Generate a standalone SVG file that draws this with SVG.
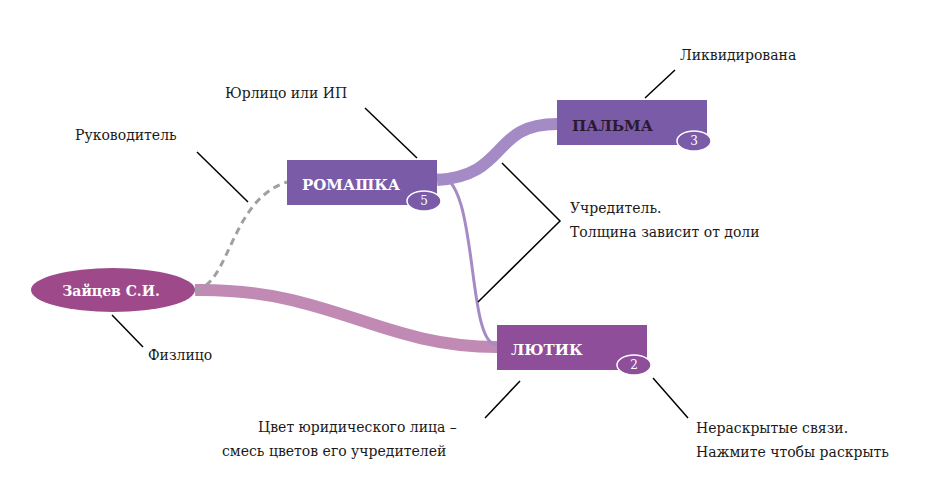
<svg xmlns="http://www.w3.org/2000/svg" width="950" height="498" viewBox="0 0 950 498">
<style>
.lbl{font-family:'DejaVu Serif','Liberation Serif',serif;font-size:14px;fill:#1a1a1a}
.nt{font-family:'DejaVu Serif','Liberation Serif',serif;font-size:15px;font-weight:bold}
.bt{font-family:'DejaVu Serif','Liberation Serif',serif;font-size:12px;fill:#fff;text-anchor:middle}
.ann{stroke:#000;stroke-width:1.5;fill:none}
.badge{stroke:#fff;stroke-width:1.5}
</style>
<rect width="950" height="498" fill="#fff"/>
<g id="connectors" fill="none">
<path d="M195,290 C330,288 380,347 497,347" stroke="#c08ab5" stroke-width="12"/>
<path d="M195,290 C230,285 230,200 287,182" stroke="#a0a0a0" stroke-width="3" stroke-dasharray="7,5"/>
<path d="M437,180 C510,175 490,124 557,124" stroke="#a48bc6" stroke-width="12"/>
<path d="M437,175 C480,175 465,345 497,345" stroke="#a48bc6" stroke-width="3"/>
</g>
<g id="annotations">
<path class="ann" d="M365,108 L417,158"/>
<path class="ann" d="M197,152 L248,202"/>
<path class="ann" d="M675,70 L645,98"/>
<path class="ann" d="M502,163 L560,221 L478,302"/>
<path class="ann" d="M112,315 L143,347"/>
<path class="ann" d="M485,418 L520,381"/>
<path class="ann" d="M653,378 L688,418"/>
<text class="lbl" x="225" y="98">Юрлицо или ИП</text>
<text class="lbl" x="75" y="140">Руководитель</text>
<text class="lbl" x="680" y="60">Ликвидирована</text>
<text class="lbl" x="570" y="213">Учредитель.</text>
<text class="lbl" x="570" y="237">Толщина зависит от доли</text>
<text class="lbl" x="148" y="360">Физлицо</text>
<text class="lbl" x="258" y="432">Цвет юридического лица –</text>
<text class="lbl" x="222" y="456">смесь цветов его учредителей</text>
<text class="lbl" x="696" y="433">Нераскрытые связи.</text>
<text class="lbl" x="696" y="457">Нажмите чтобы раскрыть</text>
</g>
<g id="zaitsev">
<ellipse cx="113" cy="290" rx="82" ry="22" fill="#9e4a8a"/>
<text class="nt" x="111" y="296" fill="#fff" text-anchor="middle" style="font-size:14px">Зайцев С.И.</text>
</g>
<g id="romashka">
<rect x="287" y="160" width="150" height="45" fill="#7a5ba8"/>
<text class="nt" x="302" y="190" fill="#fff">РОМАШКА</text>
<ellipse class="badge" cx="424" cy="201" rx="17" ry="10" fill="#7a5ba8"/>
<text class="bt" x="424" y="205">5</text>
</g>
<g id="palma">
<rect x="557" y="100" width="150" height="45" fill="#7a5ba8"/>
<text class="nt" x="572" y="131" fill="#2a1a30">ПАЛЬМА</text>
<ellipse class="badge" cx="694" cy="141" rx="17" ry="10" fill="#7a5ba8"/>
<text class="bt" x="694" y="145">3</text>
</g>
<g id="lutik">
<rect x="497" y="325" width="150" height="45" fill="#8e4e9a"/>
<text class="nt" x="511" y="355" fill="#fff">ЛЮТИК</text>
<ellipse class="badge" cx="634" cy="365" rx="17" ry="10" fill="#8e4e9a"/>
<text class="bt" x="634" y="369">2</text>
</g>
</svg>
